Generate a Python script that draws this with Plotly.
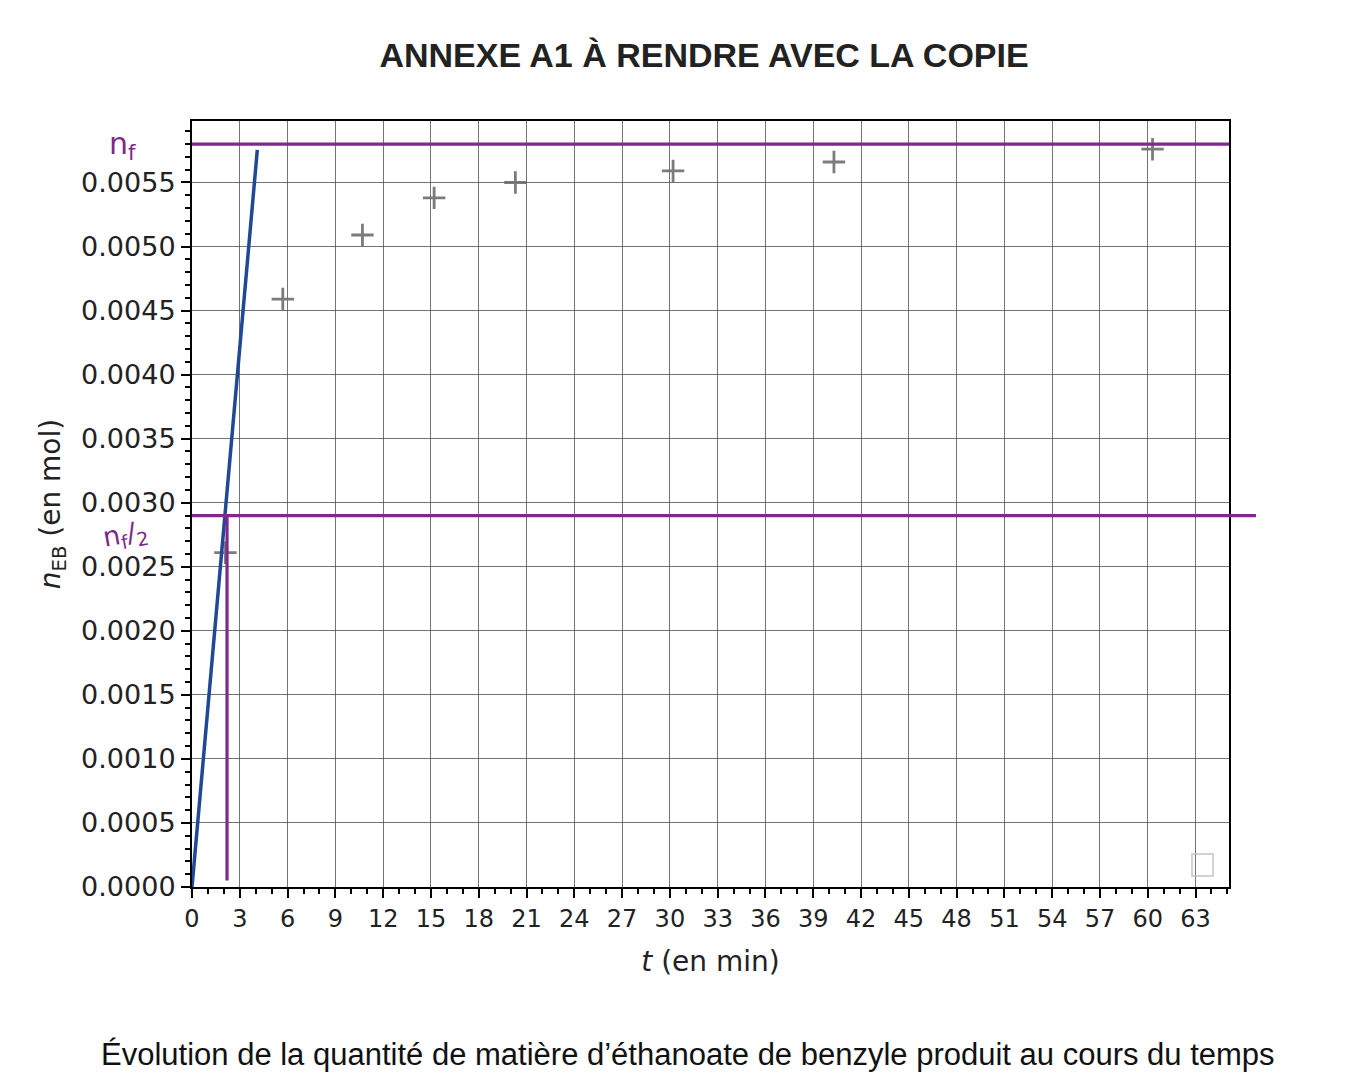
import plotly.graph_objects as go

# ---- data ----
t_min = [2.1, 5.7, 10.7, 15.2, 20.3, 30.2, 40.3, 60.3]
n_eb = [0.00261, 0.00459, 0.00509, 0.00538, 0.00550, 0.00559, 0.00566, 0.00576]

x_tick_vals = list(range(0, 64, 3))
y_tick_vals = [round(i * 0.0005, 4) for i in range(12)]

# hand-drawn annotations
tangent_t = [0.0, 4.1]
tangent_n = [0.0, 0.005755]
n_final = 0.0058
n_half = 0.0029
t_half = 2.2
t_half_line_n = [n_half, 0.00005]

PURPLE = "rgb(128,40,142)"
BLUE = "rgb(33,72,150)"
GRID = "rgba(70,70,70,0.75)"
TXT = "#222222"

fig = go.Figure()

fig.add_trace(go.Scatter(
    x=t_min, y=n_eb, mode="markers",
    marker=dict(symbol="cross-thin", size=16, line=dict(width=2.8, color="rgba(110,110,110,0.9)")),
    showlegend=False, hoverinfo="x+y",
))

# tangent at origin (blue)
fig.add_trace(go.Scatter(
    x=tangent_t, y=tangent_n, mode="lines",
    line=dict(color=BLUE, width=3.5), showlegend=False, hoverinfo="skip",
))

# vertical purple line at t1/2
fig.add_trace(go.Scatter(
    x=[t_half, t_half], y=t_half_line_n, mode="lines",
    line=dict(color=PURPLE, width=3.2), showlegend=False, hoverinfo="skip",
))

# horizontal purple lines
fig.add_shape(type="line", xref="paper", yref="y", x0=0, x1=1, y0=n_final, y1=n_final,
              line=dict(color=PURPLE, width=3.2), layer="above")
fig.add_shape(type="line", xref="paper", yref="y", x0=0, x1=1.026, y0=n_half, y1=n_half,
              line=dict(color=PURPLE, width=3.2), layer="above")

# empty legend box (matplotlib artefact)
fig.add_shape(type="rect", xref="paper", yref="paper", x0=0.9643, x1=0.9846, y0=0.0144, y1=0.0431,
              line=dict(color="rgba(190,190,190,0.9)", width=1.5), fillcolor="rgba(255,255,255,0)")

# handwritten labels
fig.add_annotation(xref="paper", yref="paper", x=-0.0675, y=0.968, xanchor="center", yanchor="middle",
                   text="n<sub>f</sub>", showarrow=False,
                   font=dict(family="DejaVu Sans", size=30, color=PURPLE))
fig.add_annotation(xref="paper", yref="paper", x=-0.0646, y=0.4595, xanchor="center", yanchor="middle",
                   text="n<sub>f</sub>/<sub>2</sub>", showarrow=False, textangle=-10,
                   font=dict(family="DejaVu Sans", size=27, color=PURPLE))

# caption
fig.add_annotation(xref="paper", yref="paper", x=0.478, y=-0.219, xanchor="center", yanchor="middle",
                   text="Évolution de la quantité de matière d’éthanoate de benzyle produit au cours du temps",
                   showarrow=False, font=dict(family="Liberation Sans", size=31, color="#111111"))

fig.update_layout(
    width=1350, height=1084,
    paper_bgcolor="white", plot_bgcolor="white",
    margin=dict(l=184, r=129, t=113, b=205),
    title=dict(text="<b>ANNEXE A1 À RENDRE AVEC LA COPIE</b>", x=0.5156, xanchor="center",
               y=0.9566, yanchor="middle",
               font=dict(family="Liberation Sans", size=34, color="#222222")),
    showlegend=False,
    font=dict(family="DejaVu Sans", color=TXT),
)

fig.update_xaxes(
    range=[0, 65.1], tickvals=x_tick_vals, ticktext=[str(v) for v in x_tick_vals],
    showgrid=True, gridcolor=GRID, gridwidth=1.3,
    showline=True, linecolor="black", linewidth=2, mirror=True,
    ticks="outside", ticklen=9, tickwidth=2, tickcolor="black",
    tickfont=dict(size=24, color=TXT),
    minor=dict(dtick=1, tick0=0, ticks="outside", ticklen=5, tickwidth=1.5, tickcolor="black", showgrid=False),
    title=dict(text="<i>t</i> (en min)", font=dict(size=28, color=TXT), standoff=20),
    zeroline=False,
)
fig.update_yaxes(
    range=[0, 0.00598], tickvals=y_tick_vals, tickformat=".4f",
    showgrid=True, gridcolor=GRID, gridwidth=1.3,
    showline=True, linecolor="black", linewidth=2, mirror=True,
    ticks="outside", ticklen=9, tickwidth=2, tickcolor="black",
    tickfont=dict(size=27, color=TXT),
    minor=dict(dtick=0.0001, tick0=0, ticks="outside", ticklen=5, tickwidth=1.5, tickcolor="black", showgrid=False),
    title=dict(text="<i>n</i><sub>EB</sub> (en mol)", font=dict(size=28, color=TXT), standoff=12),
    zeroline=False,
)

fig.write_html("out.html")
